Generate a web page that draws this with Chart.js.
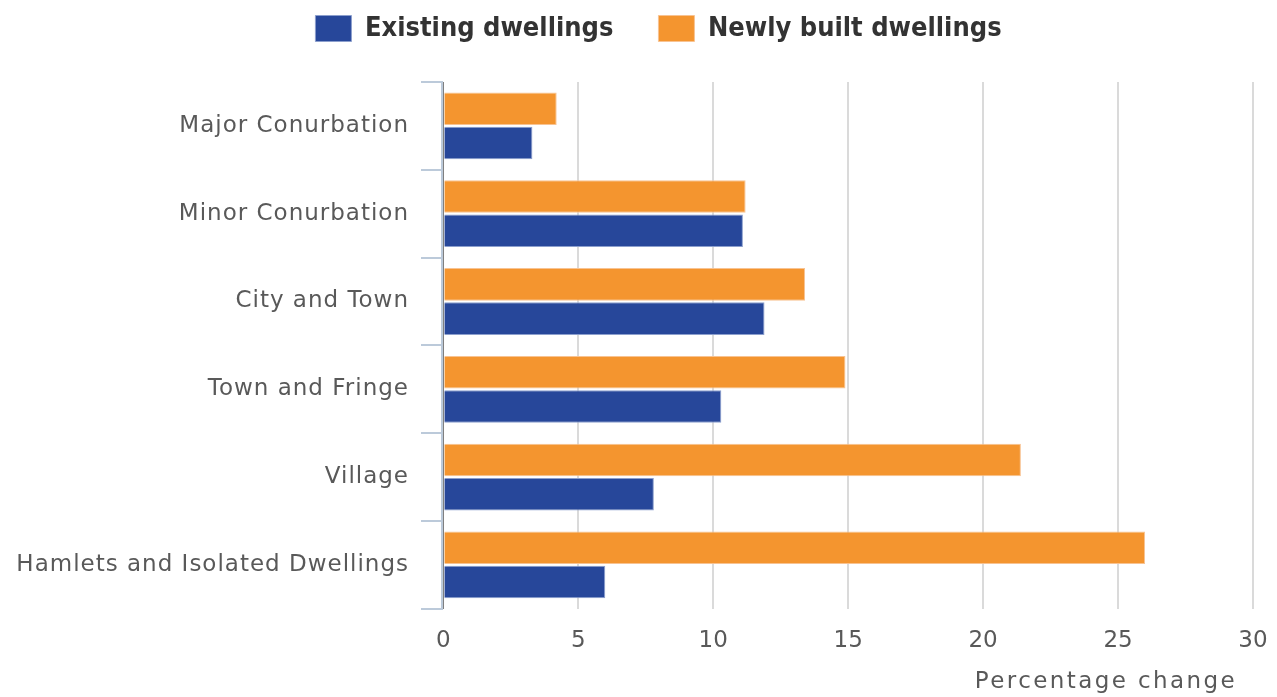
<!DOCTYPE html>
<html>
<head>
<meta charset="utf-8">
<title>Change in dwelling prices by settlement type</title>
<script src="https://cdn.jsdelivr.net/npm/chart.js@4.4.1/dist/chart.umd.min.js"></script>
<style>
  html, body { margin: 0; padding: 0; background: #ffffff; }
  canvas { display: block; }
</style>
</head>
<body>
<canvas id="chart" width="1277" height="697"></canvas>
<script>
// Settlement types (category axis, top to bottom)
const categories = [
  'Major Conurbation',
  'Minor Conurbation',
  'City and Town',
  'Town and Fringe',
  'Village',
  'Hamlets and Isolated Dwellings'
];

// Percentage change per settlement type
const existingDwellings   = [3.3, 11.1, 11.9, 10.3, 7.8, 6.0];
const newlyBuiltDwellings = [4.2, 11.2, 13.4, 14.9, 21.4, 26.0];

const seriesNames = ['Existing dwellings', 'Newly built dwellings'];
const xTicks = [0, 5, 10, 15, 20, 25, 30];
const xAxisTitle = 'Percentage change';

const BLUE = '#27479a';
const ORANGE = '#f4952f';
const AXIS_BLUE = '#bccada';
const LABEL_GREY = '#595959';

// Wrap a scale drawing method so its text is drawn with extra letter spacing
function withSpacing(fn, spacing, dx) {
  return function (...args) {
    const ctx = this.ctx;
    ctx.save();
    if ('letterSpacing' in ctx) ctx.letterSpacing = spacing + 'px';
    if (dx) ctx.translate(dx, 0);
    const r = fn.apply(this, args);
    ctx.restore();
    return r;
  };
}

function patchScale(scale, labelSpacing, titleSpacing, titleShift) {
  if (scale.$spaced) return;
  scale.$spaced = true;
  scale.drawLabels = withSpacing(scale.drawLabels, labelSpacing, 0);
  scale.drawTitle = withSpacing(scale.drawTitle, titleSpacing, titleShift);
}

// Move the legend row without touching the plot area
const legendShift = {
  id: 'legendShift',
  afterLayout(chart, args, opts) {
    const lg = chart.legend;
    if (!lg) return;
    lg.left += opts.dx; lg.right += opts.dx;
    lg.top += opts.dy; lg.bottom += opts.dy;
  }
};

const ctx = document.getElementById('chart').getContext('2d');

new Chart(ctx, {
  type: 'bar',
  data: {
    labels: categories,
    datasets: [
      {
        label: seriesNames[1],
        data: newlyBuiltDwellings,
        backgroundColor: ORANGE,
        borderColor: '#f8c392',
        borderWidth: 1,
        categoryPercentage: 0.78,
        barPercentage: 0.95
      },
      {
        label: seriesNames[0],
        data: existingDwellings,
        backgroundColor: BLUE,
        borderColor: '#8c9fcd',
        borderWidth: 1,
        categoryPercentage: 0.78,
        barPercentage: 0.95
      }
    ]
  },
  options: {
    indexAxis: 'y',
    responsive: false,
    animation: false,
    events: [],
    layout: { padding: { left: 0, right: 0, top: 0, bottom: 1 } },
    plugins: {
      tooltip: { enabled: false },
      legendShift: { dx: 20, dy: -30 },
      legend: {
        position: 'top',
        reverse: true,
        labels: {
          boxWidth: 36,
          boxHeight: 26,
          padding: 45,
          color: '#333333',
          font: { family: "'DejaVu Sans Condensed', 'DejaVu Sans', sans-serif", size: 27, weight: 'bold' }
        }
      }
    },
    scales: {
      x: {
        type: 'linear',
        position: 'bottom',
        min: -0.05,
        max: 30,
        afterBuildTicks(scale) {
          scale.ticks = xTicks.map(v => ({ value: v }));
        },
        afterFit(scale) {
          scale.paddingLeft = 0;
          scale.paddingRight = 24;
          patchScale(scale, 0, 2.4, -16);
        },
        border: { display: false },
        grid: {
          drawTicks: false,
          lineWidth: 2,
          color: c => (c.tick && c.tick.value === 0 ? '#7f7f7f' : '#dadada')
        },
        ticks: {
          color: LABEL_GREY,
          padding: 18,
          font: { family: "'DejaVu Sans', sans-serif", size: 23 }
        },
        title: {
          display: true,
          text: xAxisTitle,
          align: 'end',
          color: LABEL_GREY,
          padding: { top: -4, bottom: 0 },
          font: { family: "'DejaVu Sans', sans-serif", size: 23 }
        }
      },
      y: {
        type: 'category',
        afterFit(scale) {
          scale.width = 442;
          patchScale(scale, 1, 0, 0);
        },
        border: { display: true, color: AXIS_BLUE, width: 2 },
        grid: {
          offset: true,
          drawOnChartArea: false,
          drawTicks: true,
          tickLength: 21,
          lineWidth: 2,
          color: AXIS_BLUE
        },
        ticks: {
          color: LABEL_GREY,
          padding: 12,
          font: { family: "'DejaVu Sans', sans-serif", size: 23 }
        }
      }
    }
  },
  plugins: [legendShift]
});
</script>
</body>
</html>
